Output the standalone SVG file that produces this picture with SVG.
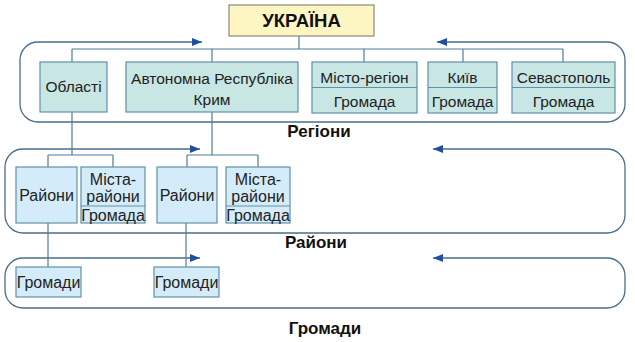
<svg xmlns="http://www.w3.org/2000/svg" width="635" height="342" viewBox="0 0 635 342">
<style>
text{font-family:"Liberation Sans",Arial,sans-serif;fill:#222;text-anchor:middle}
.t{font-size:15.5px}
.s{font-size:16px}
.b{font-weight:bold;font-size:17px;fill:#111}
.teal{fill:#c7e6e4;stroke:#5f92a8;stroke-width:1.2}
.blue{fill:#d4ecf9;stroke:#5f92a8;stroke-width:1.2}
.ln{fill:none;stroke:#4f7f98;stroke-width:1.2}
.dv{stroke:#5f92a8;stroke-width:1.2}
.cont{fill:none;stroke:#4b6d8a;stroke-width:1.3}
</style>
<defs>
<marker id="ah" viewBox="0 0 10 8" refX="10" refY="4" markerWidth="11" markerHeight="8" markerUnits="userSpaceOnUse" orient="auto-start-reverse">
<path d="M0,0 L10,4 L0,8 Z" fill="#1f4f9e"/>
</marker>
</defs>
<g id="containers">
<path class="cont" d="M202,42 H38 A18,18 0 0 0 20,60 V104 A18,18 0 0 0 38,122 H607 A18,18 0 0 0 625,104 V60 A18,18 0 0 0 607,42 H437" marker-start="url(#ah)" marker-end="url(#ah)"/>
<path class="cont" d="M200,149 H23 A18,18 0 0 0 5,167 V215 A18,18 0 0 0 23,233 H607 A18,18 0 0 0 625,215 V167 A18,18 0 0 0 607,149 H433" marker-start="url(#ah)" marker-end="url(#ah)"/>
<path class="cont" d="M200,258 H23 A18,18 0 0 0 5,276 V290 A18,18 0 0 0 23,308 H607 A18,18 0 0 0 625,290 V276 A18,18 0 0 0 607,258 H433" marker-start="url(#ah)" marker-end="url(#ah)"/>
</g>
<g id="connectors">
<path class="ln" d="M299,36 V49 M72,49 H563 M72,49 V62 M212,49 V62 M364,49 V62 M463,49 V62 M563,49 V62"/>
<path class="ln" d="M72,112 V155 M48,155 H113 M48,155 V167 M113,155 V167"/>
<path class="ln" d="M212,112 V155 M187,155 H258 M187,155 V167 M258,155 V167"/>
<path class="ln" d="M48,223 V267"/>
<path class="ln" d="M186,223 V267"/>
</g>
<g id="ukraine">
<rect x="229" y="5" width="145" height="31" fill="#fdf6c3" stroke="#8a8a7a" stroke-width="1.2"/>
<text x="301.5" y="27" style="font-weight:bold;font-size:18.5px;fill:#111">УКРАЇНА</text>
</g>
<g id="oblasti">
<rect class="teal" x="40" y="62" width="67" height="50"/>
<text class="t" x="73.5" y="92">Області</text>
</g>
<g id="krym">
<rect class="teal" x="126" y="62" width="172" height="50"/>
<text class="t" x="212" y="84">Автономна Республіка</text>
<text class="t" x="212" y="105">Крим</text>
</g>
<g id="misto-region">
<rect class="teal" x="312" y="62" width="105" height="51"/>
<line class="dv" x1="312" y1="87.5" x2="417" y2="87.5"/>
<text class="t" x="364.5" y="83">Місто-регіон</text>
<text class="t" x="364.5" y="107">Громада</text>
</g>
<g id="kyiv">
<rect class="teal" x="428" y="62" width="69" height="51"/>
<line class="dv" x1="428" y1="87.5" x2="497" y2="87.5"/>
<text class="t" x="462.5" y="83">Київ</text>
<text class="t" x="462.5" y="107">Громада</text>
</g>
<g id="sevastopol">
<rect class="teal" x="512" y="62" width="103" height="51"/>
<line class="dv" x1="512" y1="87.5" x2="615" y2="87.5"/>
<text class="t" x="563.5" y="83">Севастополь</text>
<text class="t" x="563.5" y="107">Громада</text>
</g>
<text class="b" x="319" y="137">Регіони</text>
<g id="raiony1">
<rect class="blue" x="16" y="167" width="61" height="56"/>
<text class="s" x="46.5" y="201">Райони</text>
</g>
<g id="mista-raiony1">
<rect class="blue" x="81" y="167" width="64" height="56"/>
<line class="dv" x1="81" y1="206" x2="145" y2="206"/>
<text class="s" x="113" y="185">Міста-</text>
<text class="s" x="113" y="202">райони</text>
<text class="s" x="113" y="221">Громада</text>
</g>
<g id="raiony2">
<rect class="blue" x="157" y="167" width="60" height="56"/>
<text class="s" x="187" y="201">Райони</text>
</g>
<g id="mista-raiony2">
<rect class="blue" x="226" y="167" width="64" height="56"/>
<line class="dv" x1="226" y1="206" x2="290" y2="206"/>
<text class="s" x="258" y="185">Міста-</text>
<text class="s" x="258" y="202">райони</text>
<text class="s" x="258" y="221">Громада</text>
</g>
<text class="b" x="316" y="248">Райони</text>
<g id="gromady1">
<rect class="blue" x="16" y="267" width="65" height="30"/>
<text class="s" x="48.5" y="288">Громади</text>
</g>
<g id="gromady2">
<rect class="blue" x="154" y="267" width="65" height="30"/>
<text class="s" x="186.5" y="288">Громади</text>
</g>
<text class="b" x="325" y="334">Громади</text>
</svg>
